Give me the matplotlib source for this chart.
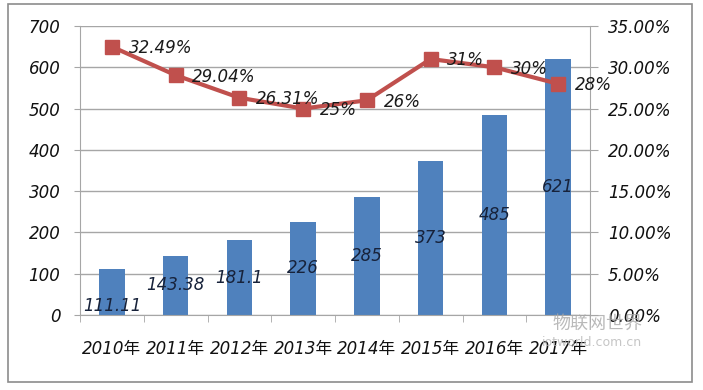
import numpy as np
import matplotlib.pyplot as plt
from matplotlib.patches import Rectangle

plt.rcParams['font.family'] = ['DejaVu Sans', 'Noto Sans CJK SC']

years = ["2010年", "2011年", "2012年", "2013年", "2014年", "2015年", "2016年", "2017年"]
scale = [111.11, 143.38, 181.1, 226, 285, 373, 485, 621]
scale_labels = ["111.11", "143.38", "181.1", "226", "285", "373", "485", "621"]
growth = [32.49, 29.04, 26.31, 25, 26, 31, 30, 28]
growth_labels = ["32.49%", "29.04%", "26.31%", "25%", "26%", "31%", "30%", "28%"]

bar_color = "#4F81BD"
line_color = "#C0504D"
grid_color = "#A6A6A6"
fs = 12

fig = plt.figure(figsize=(7.03, 3.9), dpi=100)
fig.patches.append(Rectangle((8 / 703, 1 - 382 / 390), 684 / 703, 378 / 390,
                             transform=fig.transFigure, fill=False,
                             edgecolor="#8C8C8C", linewidth=1.2))

ax = fig.add_axes([80 / 703, 1 - 315 / 390, 510 / 703, 289 / 390])
x = np.arange(len(years))
ax.bar(x, scale, width=0.4, color=bar_color, zorder=2)
ax.set_xlim(-0.5, len(years) - 0.5)
ax.set_ylim(0, 700)
ax.set_yticks(np.arange(0, 701, 100))
ax.grid(axis="y", color=grid_color, linewidth=1, zorder=0)
for s in ["top", "right"]:
    ax.spines[s].set_visible(False)
ax.spines["left"].set_color(grid_color)
ax.spines["bottom"].set_color(grid_color)
ax.set_xticks(x)
ax.set_xticklabels(years, fontsize=fs, style="italic", color="#111111")
ax.set_xticks(np.arange(-0.5, len(years)), minor=True)
ax.tick_params(axis="x", which="major", length=0, pad=18)
ax.tick_params(axis="x", which="minor", length=5, color=grid_color)
ax.tick_params(axis="y", length=4, color=grid_color, pad=10)
for t in ax.get_yticklabels():
    t.set_fontsize(fs)
    t.set_style("italic")
    t.set_color("#111111")

# bar value labels (first one sits near the base)
for i, (v, lab) in enumerate(zip(scale, scale_labels)):
    ly = v / 2 if i > 0 else 22
    ax.text(i, ly, lab, ha="center", va="center", fontsize=fs,
            style="italic", color="#17223A", zorder=4)

ax2 = ax.twinx()
ax2.set_ylim(0, 0.35)
ax2.set_yticks(np.arange(0, 0.351, 0.05))
ax2.set_yticklabels([f"{v * 100:.2f}%" for v in np.arange(0, 0.351, 0.05)],
                    fontsize=fs, style="italic", color="#111111")
ax2.tick_params(axis="y", length=6, color=grid_color, pad=7)
for s in ["top", "left", "bottom"]:
    ax2.spines[s].set_visible(False)
ax2.spines["right"].set_color(grid_color)
g = np.array(growth) / 100
ax2.plot(x, g, color=line_color, linewidth=3, marker="s", markersize=10,
         zorder=3)
for i, (v, lab) in enumerate(zip(g, growth_labels)):
    ax2.annotate(lab, (i, v), xytext=(12, -1), textcoords="offset points",
                 ha="left", va="center", fontsize=fs, style="italic",
                 color="#1a1a1a", zorder=4)

# watermark
fig.text(597 / 703, 1 - 324 / 390, "物联网世界", fontsize=13, color="#A8A8A8",
         ha="center", va="center", family=["Noto Sans CJK SC"], alpha=0.8)
fig.text(592 / 703, 1 - 343 / 390, "iotworld.com.cn", fontsize=9, color="#B8B8B8",
         ha="center", va="center", alpha=0.8)

fig.savefig("out.png", dpi=100)
